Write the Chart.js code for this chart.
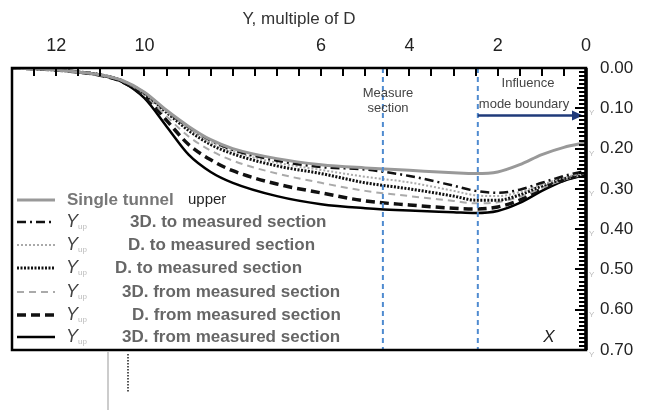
<!DOCTYPE html>
<html>
<head>
<meta charset="utf-8">
<script src="https://cdn.jsdelivr.net/npm/chart.js@4.4.1/dist/chart.umd.min.js"></script>
<style>
  html, body { margin: 0; padding: 0; background: #fff; }
</style>
</head>
<body>
<canvas id="chart" width="654" height="410"></canvas>
<script>
// distance along the tunnel, multiples of D (axis runs 13 -> 0)
const xVals = [13, 12.5, 12, 11.5, 11, 10.5, 10, 9.5, 9, 8.5, 8, 7, 6, 5, 4, 3, 2.5, 2, 1.5, 1, 0.5, 0];

const singleTunnel = [0, 0.002, 0.005, 0.01, 0.017, 0.031, 0.06, 0.105, 0.145, 0.178, 0.2, 0.225, 0.24, 0.248, 0.254, 0.26, 0.262, 0.258, 0.24, 0.215, 0.197, 0.185];
const to3D         = [0, 0.002, 0.005, 0.01, 0.017, 0.032, 0.062, 0.107, 0.147, 0.18, 0.203, 0.23, 0.246, 0.252, 0.268, 0.292, 0.305, 0.31, 0.302, 0.285, 0.268, 0.255];
const to2D         = [0, 0.002, 0.005, 0.01, 0.017, 0.032, 0.062, 0.108, 0.15, 0.185, 0.207, 0.235, 0.253, 0.27, 0.284, 0.305, 0.316, 0.318, 0.308, 0.29, 0.272, 0.26];
const to1D         = [0, 0.002, 0.005, 0.01, 0.017, 0.032, 0.063, 0.11, 0.155, 0.19, 0.213, 0.243, 0.262, 0.285, 0.3, 0.318, 0.328, 0.328, 0.315, 0.293, 0.275, 0.262];
const from3D       = [0, 0.002, 0.005, 0.01, 0.018, 0.033, 0.066, 0.12, 0.17, 0.205, 0.23, 0.262, 0.285, 0.305, 0.318, 0.33, 0.336, 0.333, 0.32, 0.298, 0.277, 0.263];
const from1D       = [0, 0.002, 0.005, 0.01, 0.018, 0.034, 0.07, 0.13, 0.19, 0.228, 0.255, 0.288, 0.31, 0.33, 0.34, 0.348, 0.35, 0.345, 0.328, 0.3, 0.278, 0.263];
const from3Db      = [0, 0.002, 0.005, 0.01, 0.018, 0.035, 0.075, 0.145, 0.215, 0.258, 0.285, 0.318, 0.338, 0.348, 0.354, 0.358, 0.36, 0.355, 0.335, 0.305, 0.28, 0.265];

const xTickLabels = [12, 10, 6, 4, 2, 0];
const yTickLabels = [0, 0.1, 0.2, 0.3, 0.4, 0.5, 0.6, 0.7];
const markerX = [4.6, 2.45];
const legendLabels = [
  "Single tunnel",
  "3D. to measured section",
  "D. to measured section",
  "D. to measured section",
  "3D. from measured section",
  "D. from measured section",
  "3D. from measured section"
];

const pts = arr => arr.map((v, i) => ({ x: xVals[i], y: v }));

function ds(label, data, color, width, dash) {
  return {
    label: label,
    data: pts(data),
    borderColor: color,
    borderWidth: width,
    borderDash: dash,
    pointRadius: 0,
    fill: false,
    cubicInterpolationMode: "monotone"
  };
}

const datasets = [
  ds(legendLabels[0], singleTunnel, "#999", 3, []),
  ds(legendLabels[1], to3D, "#111", 2.5, [9, 4, 2, 4]),
  ds(legendLabels[2], to2D, "#aaa", 2, [2, 2]),
  ds(legendLabels[3], to1D, "#111", 3, [2, 1.5]),
  ds(legendLabels[4], from3D, "#aaa", 2, [7, 5]),
  ds(legendLabels[5], from1D, "#111", 3.5, [9, 5]),
  ds(legendLabels[6], from3Db, "#000", 2.5, [])
];

const legendRows = [200, 222, 245, 268, 292, 315, 337];
const legendTextX = [67, 130, 128, 115, 122, 132, 122];

const decor = {
  id: "decor",
  afterDatasetsDraw(chart) {
    const { ctx, chartArea: a, scales: { x, y } } = chart;
    ctx.save();

    // measured section / influence boundary markers
    ctx.strokeStyle = "#4f8bd0";
    ctx.lineWidth = 2;
    ctx.setLineDash([5, 4]);
    markerX.forEach(v => {
      const px = x.getPixelForValue(v);
      ctx.beginPath();
      ctx.moveTo(px, a.top);
      ctx.lineTo(px, a.bottom);
      ctx.stroke();
    });
    ctx.setLineDash([]);

    // arrow
    const ay = y.getPixelForValue(0.118);
    const ax0 = x.getPixelForValue(markerX[1]);
    const ax1 = a.right - 3;
    ctx.strokeStyle = "#1f3a7a";
    ctx.fillStyle = "#1f3a7a";
    ctx.lineWidth = 2.5;
    ctx.beginPath();
    ctx.moveTo(ax0, ay);
    ctx.lineTo(ax1 - 8, ay);
    ctx.stroke();
    ctx.beginPath();
    ctx.moveTo(ax1, ay);
    ctx.lineTo(ax1 - 11, ay - 5);
    ctx.lineTo(ax1 - 11, ay + 5);
    ctx.closePath();
    ctx.fill();

    // annotation text
    ctx.fillStyle = "#444";
    ctx.font = "13px Arial";
    ctx.textAlign = "center";
    ctx.textBaseline = "middle";
    ctx.fillText("Measure", 388, 93);
    ctx.fillText("section", 388, 108);
    ctx.fillText("Influence", 528, 83);
    ctx.fillText("mode boundary", 524, 104);

    ctx.fillStyle = "#222";
    ctx.font = "italic 17px Arial";
    ctx.fillText("X", 549, 337);

    // legend
    datasets.forEach((d, i) => {
      const ry = legendRows[i];
      ctx.strokeStyle = d.borderColor;
      ctx.lineWidth = d.borderWidth;
      ctx.setLineDash(d.borderDash);
      ctx.beginPath();
      ctx.moveTo(17, ry);
      ctx.lineTo(55, ry);
      ctx.stroke();
      ctx.setLineDash([]);
      ctx.textAlign = "left";
      if (i === 0) {
        ctx.fillStyle = "#777";
        ctx.font = "bold 17px Arial";
        ctx.fillText(d.label, legendTextX[i], ry);
        ctx.fillStyle = "#222";
        ctx.font = "15px Arial";
        ctx.fillText("upper", 188, ry);
      } else {
        ctx.fillStyle = "#444";
        ctx.font = "italic 18px Arial";
        ctx.fillText("Y", 66, ry);
        ctx.fillStyle = "#bbb";
        ctx.font = "8px Arial";
        ctx.fillText("up", 78, ry + 5);
        ctx.fillStyle = "#666";
        ctx.font = "bold 17px Arial";
        ctx.fillText(d.label, legendTextX[i], ry);
      }
    });

    // frame
    ctx.strokeStyle = "#000";
    ctx.lineWidth = 2.5;
    ctx.strokeRect(a.left, a.top, a.right - a.left, a.bottom - a.top);
    ctx.lineWidth = 3.5;
    ctx.beginPath();
    ctx.moveTo(a.right, a.top);
    ctx.lineTo(a.right, a.bottom);
    ctx.stroke();

    // inward ticks, top axis
    ctx.lineWidth = 2;
    for (let v = 0; v <= 13; v += 0.5) {
      const px = Math.round(x.getPixelForValue(v));
      ctx.beginPath();
      ctx.moveTo(px, a.top);
      ctx.lineTo(px, a.top + 8);
      ctx.stroke();
    }
    // inward ticks, right axis
    ctx.lineWidth = 2;
    for (let i = 0; i <= 70; i++) {
      const py = Math.round(y.getPixelForValue(i / 100));
      const len = i % 10 === 0 ? 11 : (i % 5 === 0 ? 9 : 7);
      ctx.beginPath();
      ctx.moveTo(a.right, py);
      ctx.lineTo(a.right - len, py);
      ctx.stroke();
    }

    // faint prefix marks before right labels
    ctx.fillStyle = "#bbb";
    ctx.font = "8px Arial";
    ctx.textAlign = "left";
    yTickLabels.slice(1).forEach(v => {
      ctx.fillText("Y", a.right + 3, y.getPixelForValue(v) + 5);
    });

    // stray marks under the frame
    ctx.strokeStyle = "#ccc";
    ctx.lineWidth = 2;
    ctx.beginPath();
    ctx.moveTo(108, a.bottom + 2);
    ctx.lineTo(108, 410);
    ctx.stroke();
    ctx.strokeStyle = "#555";
    ctx.setLineDash([1.5, 1.5]);
    ctx.beginPath();
    ctx.moveTo(128, a.bottom + 4);
    ctx.lineTo(128, 392);
    ctx.stroke();
    ctx.restore();
  }
};

new Chart(document.getElementById("chart"), {
  type: "line",
  data: { datasets: datasets },
  plugins: [decor],
  options: {
    responsive: false,
    animation: false,
    layout: { padding: { left: 12, right: 0, top: 0, bottom: 60 } },
    plugins: {
      legend: { display: false },
      tooltip: { enabled: false },
      title: {
        display: true,
        fullSize: false,
        text: "Y, multiple of D",
        color: "#333",
        font: { family: "Arial", size: 17, weight: "normal" },
        padding: { top: 9, bottom: 2 }
      }
    },
    scales: {
      x: {
        type: "linear",
        position: "top",
        reverse: true,
        min: 0,
        max: 13,
        afterBuildTicks: s => { s.ticks = xTickLabels.map(v => ({ value: v })); },
        afterFit: s => { s.height = 36.6; },
        grid: { display: false },
        border: { display: false },
        ticks: {
          autoSkip: false,
          maxRotation: 0,
          padding: 3,
          color: "#222",
          font: { family: "Arial", size: 18 }
        }
      },
      y: {
        position: "right",
        reverse: true,
        min: 0,
        max: 0.7,
        afterBuildTicks: s => { s.ticks = yTickLabels.map(v => ({ value: v })); },
        afterFit: s => { s.width = 68; },
        grid: { display: false },
        border: { display: false },
        ticks: {
          padding: 6,
          color: "#222",
          font: { family: "Arial", size: 17 },
          callback: v => v.toFixed(2)
        }
      }
    }
  }
});
</script>
</body>
</html>
